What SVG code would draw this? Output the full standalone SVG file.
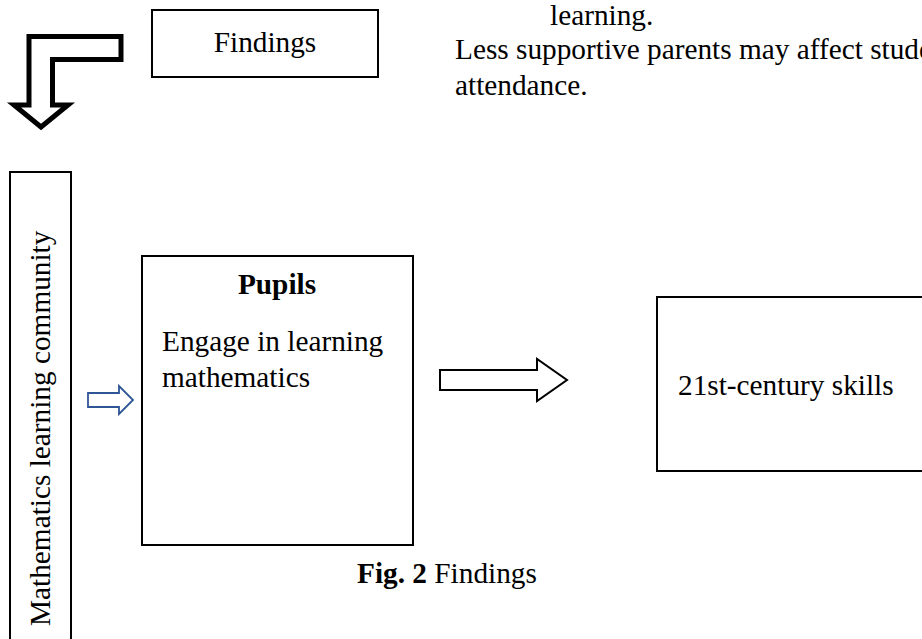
<svg xmlns="http://www.w3.org/2000/svg" width="922" height="639" viewBox="0 0 922 639">
<style>
  text { font-family: "Liberation Serif", "Times New Roman", serif; font-size: 29.3px; fill: #000; }
  .b { font-weight: bold; }
  .box { fill: #fff; stroke: #000; stroke-width: 2; }
  .bigarrow { fill: #fff; stroke: #000; stroke-width: 5; stroke-linejoin: miter; stroke-miterlimit: 10; }
  .arrow { fill: #fff; stroke: #000; stroke-width: 2; stroke-linejoin: miter; }
  .blue { fill: #fff; stroke: #2F5597; stroke-width: 1.8; stroke-linejoin: miter; }
</style>
<rect width="922" height="639" fill="#fff"/>
<g id="connectors">
  <polygon class="bigarrow" points="41,127 68,105 52.5,105 52.5,59.5 121,59.5 121,36.5 29,36.5 29,105 14,105"/>
  <polygon class="blue" points="88,393 119,393 119,386 133,400 119,414 119,407 88,407"/>
  <polygon class="arrow" points="440,370 537,370 537,359 567,380 537,401 537,390 440,390"/>
</g>
<g id="findings">
  <rect class="box" x="152" y="10" width="226" height="67"/>
  <text x="265" y="52" text-anchor="middle">Findings</text>
</g>
<g id="notes">
  <text x="550" y="25">learning.</text>
  <text x="455" y="59">Less supportive parents may affect stude</text>
  <text x="455" y="95">attendance.</text>
</g>
<g id="community">
  <rect class="box" x="10" y="172" width="61" height="480"/>
  <text transform="translate(50,626) rotate(-90)">Mathematics learning community</text>
</g>
<g id="pupils">
  <rect class="box" x="142" y="256" width="271" height="289"/>
  <text class="b" x="277" y="294" text-anchor="middle">Pupils</text>
  <text x="162" y="351">Engage in learning</text>
  <text x="162" y="387">mathematics</text>
</g>
<g id="skills">
  <rect class="box" x="657" y="297" width="280" height="174"/>
  <text x="678" y="395">21st-century skills</text>
</g>
<g id="caption">
  <text x="357" y="583"><tspan class="b">Fig. 2</tspan> Findings</text>
</g>
</svg>
